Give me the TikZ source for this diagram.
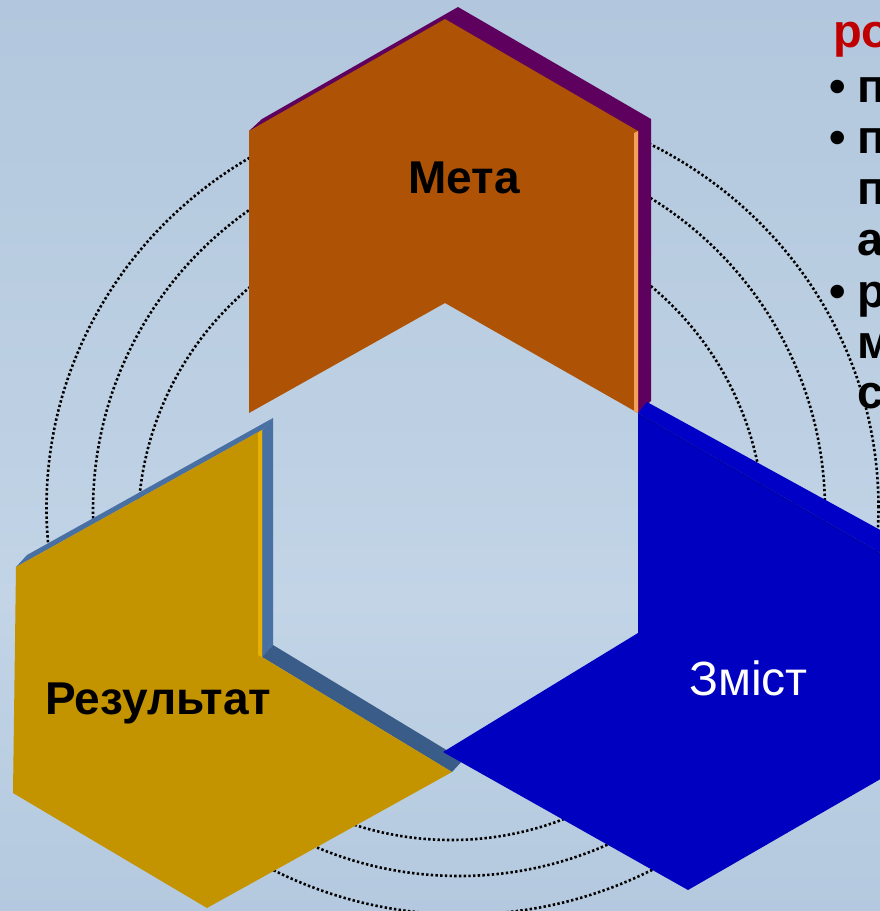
\documentclass[tikz,border=0pt]{standalone}
\usepackage{fontspec}
\setmainfont{Liberation Sans}
\definecolor{bgtop}{HTML}{B2C7DD}
\definecolor{bglight}{HTML}{C2D4E6}
\definecolor{bgbot}{HTML}{B4C9DF}
\definecolor{metaC}{HTML}{AE5206}
\definecolor{metaSide}{HTML}{5E005E}
\definecolor{metaHl}{HTML}{F4A259}
\definecolor{resC}{HTML}{C39300}
\definecolor{resSide}{HTML}{4870A2}
\definecolor{resSide2}{HTML}{3A5C89}
\definecolor{resHl}{HTML}{E7B000}
\definecolor{zmC}{HTML}{0000C0}
\definecolor{zmSide}{HTML}{0000C6}
\definecolor{zmLine}{HTML}{0000AC}
\definecolor{headRed}{HTML}{C00000}
\pgfdeclareverticalshading{bgshade}{100bp}{color(0bp)=(bgbot); color(25bp)=(bgbot); color(42bp)=(bglight); color(75bp)=(bgtop); color(100bp)=(bgtop)}
\tikzset{
  dotarc/.style={draw=black, line width=2.6pt, dash pattern=on 2.4pt off 2.3pt},
  lbl/.style={inner sep=0pt, font=\fontsize{46}{46}\selectfont\bfseries},
  lblthin/.style={inner sep=0pt, font=\fontsize{48}{48}\selectfont},
  side/.style={inner sep=0pt, anchor=base west, font=\fontsize{47}{47}\selectfont\bfseries},
}
\begin{document}
\begin{tikzpicture}[x=1pt,y=-1pt]
\useasboundingbox (0,0) rectangle (880,911);
\clip (0,0) rectangle (880,911);
\shade[shading=bgshade] (0,0) rectangle (880,911);

% dotted concentric rings
\draw[dotarc] (451,527) circle [radius=313pt];
\draw[dotarc] (459,510) circle [radius=366pt];
\draw[dotarc] (462.5,507.5) ellipse [x radius=416pt, y radius=407pt];

% Результат (gold)
\fill[resSide] (16,567) -- (27,555) -- (273,418) -- (262,430) -- cycle;
\fill[resSide] (262,430) -- (273,418) -- (273,645) -- (262,657) -- cycle;
\fill[resSide2] (262,657) -- (273,645) -- (463,760) -- (452,772) -- cycle;
\fill[resC] (16,567) -- (262,430) -- (262,657) -- (452,772) -- (207,908) -- (13,793) -- cycle;
\fill[resHl] (258,433) -- (262,430) -- (262,657) -- (258,655) -- cycle;

% Мета (orange)
\fill[metaSide] (249,131) -- (262,119) -- (458,7) -- (651,119) -- (651,401) -- (638,413) -- cycle;
\fill[metaC] (249,131) -- (445,19) -- (638,131) -- (638,413) -- (445,303) -- (249,413) -- cycle;
\fill[metaHl] (634,133) -- (638,131) -- (638,413) -- (634,411) -- cycle;

% Зміст (blue)
\fill[zmSide] (638,413) -- (647,402) -- (893,537) -- (893,560) -- (884,555) -- cycle;
\fill[zmC] (638,413) -- (884,555) -- (884,777) -- (688,890) -- (443,752) -- (638,633) -- cycle;
\draw[zmLine, line width=1.2pt] (640,415) -- (884,556);

% labels
\node[lbl, anchor=base] (meta) at (464,193) {Мета};
\node[lbl, anchor=base west] (rez) at (45,714) {Результат};
\node[lblthin, anchor=base west, text=white] (zmist) at (689,695) {Зміст};

% cut-off text column at right
\node[side, text=headRed] (head) at (833,47) {ро};
\node[side] (b1) at (829,102) {•};
\node[side] (t1) at (857,102) {п};
\node[side] (b2) at (829,153) {•};
\node[side] (t2) at (857,153) {п};
\node[side] (t3) at (857,204) {п};
\node[side] (t4) at (857,255) {ад};
\node[side] (b3) at (829,307) {•};
\node[side] (t5) at (857,307) {р};
\node[side] (t6) at (857,358) {м};
\node[side] (t7) at (857,408) {с};
\end{tikzpicture}
\end{document}
